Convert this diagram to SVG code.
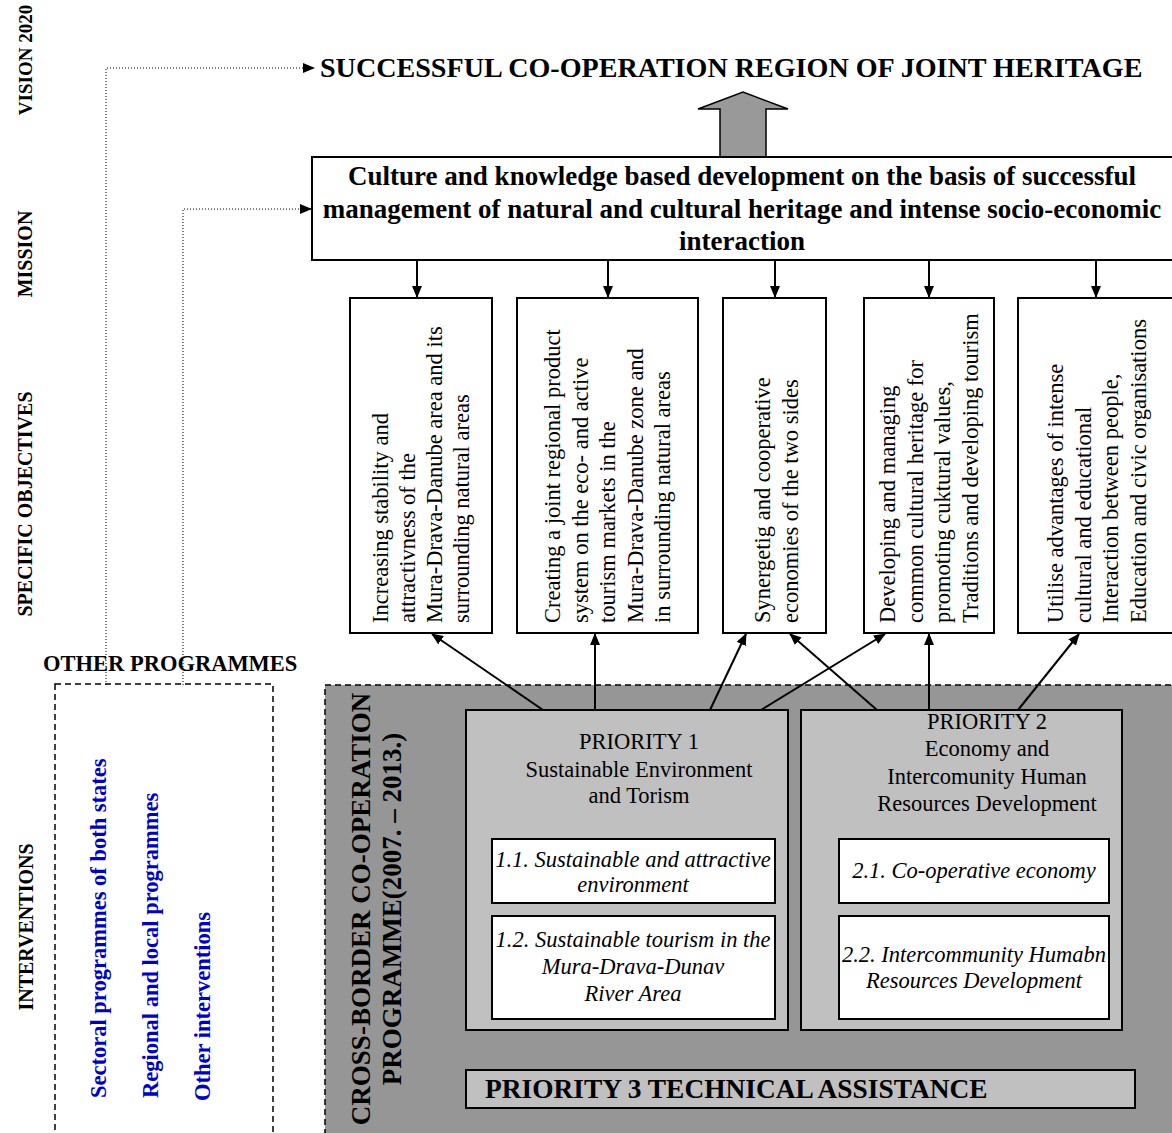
<svg xmlns="http://www.w3.org/2000/svg" width="1172" height="1133" viewBox="0 0 1172 1133">
<defs>
<style>
text{font-family:"Liberation Serif","Times New Roman",serif;fill:#000}
.b{font-weight:bold}
.lbl{font-weight:bold;font-size:20px}
.obj{font-size:22.5px}
.pr{font-size:22.5px;text-anchor:middle}
.it{font-size:22.5px;font-style:italic;text-anchor:middle}
.blue{font-weight:bold;font-size:22.5px;fill:#0000cc}
.box{fill:#fff;stroke:#000;stroke-width:2}
.pbox{fill:#c0c0c0;stroke:#000;stroke-width:2}
.sbox{fill:#fff;stroke:#000;stroke-width:2}
.ln{stroke:#000;stroke-width:2;fill:none;marker-end:url(#ah)}
.dot{stroke:#000;stroke-width:1;stroke-dasharray:1 2;fill:none;marker-end:url(#ahs)}
</style>
<marker id="ah" markerWidth="12" markerHeight="10" refX="11" refY="5" orient="auto" markerUnits="userSpaceOnUse">
<path d="M0,0 L12,5 L0,10 Z" fill="#000"/>
</marker>
<marker id="ahs" markerWidth="12" markerHeight="10" refX="11" refY="5" orient="auto" markerUnits="userSpaceOnUse">
<path d="M0,0 L12,5 L0,10 Z" fill="#000"/>
</marker>
</defs>
<rect width="1172" height="1133" fill="#fff"/>

<g id="row-labels">
<text class="lbl" transform="translate(32,60) rotate(-90)" text-anchor="middle" style="font-size:19px">VISION 2020</text>
<text class="lbl" transform="translate(32,254) rotate(-90)" text-anchor="middle">MISSION</text>
<text class="lbl" transform="translate(32,504) rotate(-90)" text-anchor="middle">SPECIFIC OBJECTIVES</text>
<text class="lbl" transform="translate(33,927) rotate(-90)" text-anchor="middle">INTERVENTIONS</text>
</g>

<g id="vision">
<text class="b" x="320" y="77" style="font-size:28.1px">SUCCESSFUL CO-OPERATION REGION OF JOINT HERITAGE</text>
</g>

<g id="big-arrow">
<polygon points="720,158 720,109 698,109 743,92 788,109 766,109 766,158" fill="#999" stroke="#000" stroke-width="1.5"/>
</g>

<g id="mission">
<rect x="312" y="157" width="864" height="103" class="box"/>
<text class="b" text-anchor="middle" style="font-size:27px"><tspan x="742" y="185">Culture and knowledge based development on the basis of successful</tspan><tspan x="742" y="218">management of natural and cultural heritage and intense socio-economic</tspan><tspan x="742" y="250">interaction</tspan></text>
</g>

<g id="obj1">
<rect x="350" y="298" width="142" height="335" class="box"/>
<text class="obj" transform="translate(0,623) rotate(-90)"><tspan x="0" y="388">Increasing stability and</tspan><tspan x="0" y="415">attractivness of the</tspan><tspan x="0" y="442">Mura-Drava-Danube area and its</tspan><tspan x="0" y="469">surrounding natural areas</tspan></text>
</g>
<g id="obj2">
<rect x="517" y="298" width="181" height="335" class="box"/>
<text class="obj" transform="translate(0,623) rotate(-90)"><tspan x="0" y="560">Creating a joint regional product</tspan><tspan x="0" y="587.5">system on the eco- and active</tspan><tspan x="0" y="615">tourism markets in the</tspan><tspan x="0" y="642.5">Mura-Drava-Danube zone and</tspan><tspan x="0" y="670">in surrounding natural areas</tspan></text>
</g>
<g id="obj3">
<rect x="723" y="298" width="103" height="335" class="box"/>
<text class="obj" transform="translate(0,623) rotate(-90)"><tspan x="0" y="770">Synergetig and cooperative</tspan><tspan x="0" y="797.5">economies of the two sides</tspan></text>
</g>
<g id="obj4">
<rect x="864" y="298" width="130" height="335" class="box"/>
<text class="obj" transform="translate(0,623) rotate(-90)"><tspan x="0" y="895">Developing and managing</tspan><tspan x="0" y="922.5">common cultural heritage for</tspan><tspan x="0" y="950">promoting cuktural values,</tspan><tspan x="0" y="977.5">Traditions and developing tourism</tspan></text>
</g>
<g id="obj5">
<rect x="1018" y="298" width="160" height="335" class="box"/>
<text class="obj" transform="translate(0,623) rotate(-90)"><tspan x="0" y="1063">Utilise advantages of intense</tspan><tspan x="0" y="1090.5">cultural and educational</tspan><tspan x="0" y="1118">Interaction between people,</tspan><tspan x="0" y="1145.5">Education and civic organisations</tspan></text>
</g>

<g id="other-programmes">
<text class="b" x="43" y="671" style="font-size:22.5px">OTHER PROGRAMMES</text>
<rect x="55" y="684" width="218" height="470" fill="none" stroke="#000" stroke-width="1.5" stroke-dasharray="6 4"/>
<text class="blue" transform="translate(106,1098) rotate(-90)">Sectoral programmes of both states</text>
<text class="blue" transform="translate(157.5,1098) rotate(-90)">Regional and local programmes</text>
<text class="blue" transform="translate(210,1101) rotate(-90)">Other interventions</text>
</g>

<g id="cbc-programme">
<rect x="325" y="685" width="860" height="460" fill="#969696" stroke="#000" stroke-width="1.5" stroke-dasharray="6 4"/>
<text class="b" transform="translate(0,909) rotate(-90)" text-anchor="middle" style="font-size:27px"><tspan x="0" y="370">CROSS-BORDER CO-OPERATION</tspan><tspan x="0" y="401">PROGRAMME(2007. – 2013.)</tspan></text>
</g>

<g id="priority1">
<rect x="466" y="710" width="322" height="320" class="pbox"/>
<text class="pr"><tspan x="639" y="749">PRIORITY 1</tspan><tspan x="639" y="777">Sustainable Environment</tspan><tspan x="639" y="803">and Torism</tspan></text>
<rect x="492" y="839" width="283" height="64" class="sbox"/>
<text class="it"><tspan x="633" y="867">1.1. Sustainable and attractive</tspan><tspan x="633" y="892">environment</tspan></text>
<rect x="492" y="916" width="283" height="103" class="sbox"/>
<text class="it"><tspan x="633" y="947">1.2. Sustainable tourism in the</tspan><tspan x="633" y="974">Mura-Drava-Dunav</tspan><tspan x="633" y="1001">River Area</tspan></text>
</g>

<g id="priority2">
<rect x="801" y="710" width="321" height="320" class="pbox"/>
<text class="pr"><tspan x="987" y="729">PRIORITY 2</tspan><tspan x="987" y="756">Economy and</tspan><tspan x="987" y="784">Intercomunity Human</tspan><tspan x="987" y="811">Resources Development</tspan></text>
<rect x="839" y="839" width="270" height="64" class="sbox"/>
<text class="it" x="974" y="878">2.1. Co-operative economy</text>
<rect x="839" y="916" width="270" height="103" class="sbox"/>
<text class="it"><tspan x="974" y="962">2.2. Intercommunity Humabn</tspan><tspan x="974" y="988">Resources Development</tspan></text>
</g>

<g id="priority3">
<rect x="466" y="1070" width="669" height="38" class="pbox"/>
<text class="b" x="485" y="1098" style="font-size:27.4px">PRIORITY 3 TECHNICAL ASSISTANCE</text>
</g>

<g id="connectors">
<path class="dot" d="M106,685 V68 H314"/>
<path class="dot" d="M183,685 V209 H311"/>
<line class="ln" x1="417" y1="260" x2="417" y2="297"/>
<line class="ln" x1="608" y1="260" x2="608" y2="297"/>
<line class="ln" x1="775" y1="260" x2="775" y2="297"/>
<line class="ln" x1="929" y1="260" x2="929" y2="297"/>
<line class="ln" x1="1096" y1="260" x2="1096" y2="297"/>
<line class="ln" x1="543" y1="710" x2="432" y2="634"/>
<line class="ln" x1="595" y1="710" x2="595" y2="634"/>
<line class="ln" x1="710" y1="710" x2="746" y2="634"/>
<line class="ln" x1="761" y1="710" x2="885" y2="634"/>
<line class="ln" x1="877" y1="710" x2="790" y2="634"/>
<line class="ln" x1="929" y1="710" x2="929" y2="634"/>
<line class="ln" x1="1018" y1="710" x2="1079" y2="634"/>
</g>
</svg>
